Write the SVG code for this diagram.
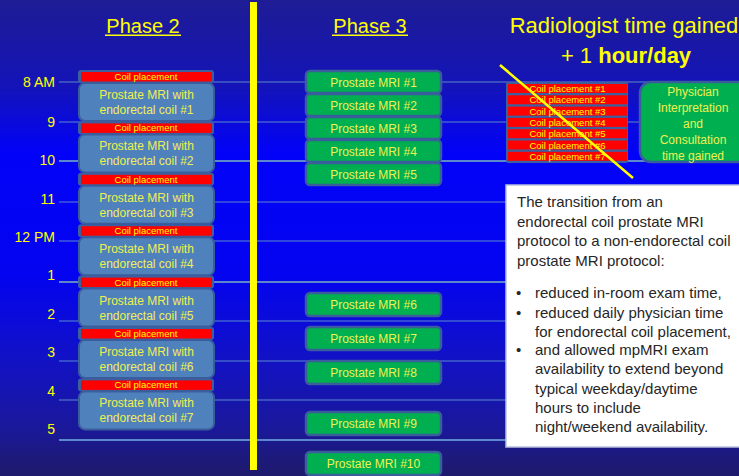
<svg xmlns="http://www.w3.org/2000/svg" width="739" height="476" viewBox="0 0 739 476">
<defs>
<linearGradient id="bg" x1="0" y1="0" x2="0" y2="1">
<stop offset="0" stop-color="#1e1c94"/>
<stop offset="0.18" stop-color="#1414b8"/>
<stop offset="0.32" stop-color="#0202f8"/>
<stop offset="0.58" stop-color="#0404f0"/>
<stop offset="0.76" stop-color="#1212c4"/>
<stop offset="0.9" stop-color="#1a189a"/>
<stop offset="1" stop-color="#1e1a6a"/>
</linearGradient>
<style>
text{font-family:"Liberation Sans",Arial,sans-serif}
.y{fill:#ffff00}
.bt{fill:#f0f050;font-size:12px;text-anchor:middle}
.ct{fill:#ffff00;font-size:9.5px;text-anchor:middle}
.tl{fill:#ffff00;font-size:14px;text-anchor:end}
.hl{stroke:#5b88cc;stroke-width:1}
.hk{stroke:#5b88cc;stroke-width:2}
.mri{fill:#4f81bd;stroke:#3a5d9c;stroke-width:2}
.frame{fill:#3d5f9e}
.red{fill:#ff0000}
.grn{fill:#00b050;stroke:#3a5d9c;stroke-width:2.5}
.bx{fill:#262626;font-size:15px}
</style>
</defs>
<rect width="739" height="476" fill="url(#bg)"/>

<g id="connectors">
<line class="hl" x1="59" y1="82" x2="739" y2="82"/>
<line class="hl" x1="59" y1="122" x2="739" y2="122"/>
<line class="hk" x1="59" y1="161" x2="739" y2="161"/>
<line class="hl" x1="59" y1="202" x2="739" y2="202"/>
<line class="hl" x1="59" y1="241" x2="739" y2="241"/>
<line class="hk" x1="59" y1="282" x2="739" y2="282"/>
<line class="hl" x1="59" y1="321" x2="739" y2="321"/>
<line class="hl" x1="59" y1="361" x2="739" y2="361"/>
<line class="hl" x1="59" y1="400" x2="739" y2="400"/>
<line class="hk" x1="59" y1="440" x2="739" y2="440"/>
</g>

<g id="time-labels">
<text class="tl" x="55" y="87">8 AM</text>
<text class="tl" x="55" y="127">9</text>
<text class="tl" x="55" y="165">10</text>
<text class="tl" x="55" y="204">11</text>
<text class="tl" x="55" y="242">12 PM</text>
<text class="tl" x="55" y="280">1</text>
<text class="tl" x="55" y="319">2</text>
<text class="tl" x="55" y="357">3</text>
<text class="tl" x="55" y="396">4</text>
<text class="tl" x="55" y="434">5</text>
</g>

<g id="titles">
<text class="y" x="143" y="33" font-size="20" text-anchor="middle">Phase 2</text>
<rect class="y" x="105" y="34.5" width="76" height="1.5"/>
<text class="y" x="370" y="33" font-size="20" text-anchor="middle">Phase 3</text>
<rect class="y" x="332" y="34.5" width="76" height="1.5"/>
<text class="y" x="624" y="33" font-size="22" text-anchor="middle">Radiologist time gained</text>
<text class="y" x="626" y="63" font-size="22" text-anchor="middle">+ 1 <tspan font-weight="bold">hour/day</tspan></text>
</g>

<rect id="divider" x="250" y="2" width="7" height="468" fill="#ffff00"/>

<g id="phase2">
<g id="p2-coil1"><rect class="frame" x="78" y="70" width="136" height="13" rx="3"/><rect class="red" x="81" y="72" width="131" height="9.5"/><text class="ct" x="146" y="80">Coil placement</text></g>
<g id="p2-mri1"><rect class="mri" x="79" y="83" width="135" height="38" rx="6"/><text class="bt" x="146.5" y="99">Prostate MRI with</text><text class="bt" x="146.5" y="114">endorectal coil #1</text></g>
<g id="p2-coil2"><rect class="frame" x="78" y="121.4" width="136" height="13" rx="3"/><rect class="red" x="81" y="123.4" width="131" height="9.5"/><text class="ct" x="146" y="131.4">Coil placement</text></g>
<g id="p2-mri2"><rect class="mri" x="79" y="134.4" width="135" height="38" rx="6"/><text class="bt" x="146.5" y="150.4">Prostate MRI with</text><text class="bt" x="146.5" y="165.4">endorectal coil #2</text></g>
<g id="p2-coil3"><rect class="frame" x="78" y="172.8" width="136" height="13" rx="3"/><rect class="red" x="81" y="174.8" width="131" height="9.5"/><text class="ct" x="146" y="182.8">Coil placement</text></g>
<g id="p2-mri3"><rect class="mri" x="79" y="185.8" width="135" height="38" rx="6"/><text class="bt" x="146.5" y="201.8">Prostate MRI with</text><text class="bt" x="146.5" y="216.8">endorectal coil #3</text></g>
<g id="p2-coil4"><rect class="frame" x="78" y="224.2" width="136" height="13" rx="3"/><rect class="red" x="81" y="226.2" width="131" height="9.5"/><text class="ct" x="146" y="234.2">Coil placement</text></g>
<g id="p2-mri4"><rect class="mri" x="79" y="237.2" width="135" height="38" rx="6"/><text class="bt" x="146.5" y="253.2">Prostate MRI with</text><text class="bt" x="146.5" y="268.2">endorectal coil #4</text></g>
<g id="p2-coil5"><rect class="frame" x="78" y="275.6" width="136" height="13" rx="3"/><rect class="red" x="81" y="277.6" width="131" height="9.5"/><text class="ct" x="146" y="285.6">Coil placement</text></g>
<g id="p2-mri5"><rect class="mri" x="79" y="288.6" width="135" height="38" rx="6"/><text class="bt" x="146.5" y="304.6">Prostate MRI with</text><text class="bt" x="146.5" y="319.6">endorectal coil #5</text></g>
<g id="p2-coil6"><rect class="frame" x="78" y="327" width="136" height="13" rx="3"/><rect class="red" x="81" y="329" width="131" height="9.5"/><text class="ct" x="146" y="337">Coil placement</text></g>
<g id="p2-mri6"><rect class="mri" x="79" y="340" width="135" height="38" rx="6"/><text class="bt" x="146.5" y="356">Prostate MRI with</text><text class="bt" x="146.5" y="371">endorectal coil #6</text></g>
<g id="p2-coil7"><rect class="frame" x="78" y="378.4" width="136" height="13" rx="3"/><rect class="red" x="81" y="380.4" width="131" height="9.5"/><text class="ct" x="146" y="388.4">Coil placement</text></g>
<g id="p2-mri7"><rect class="mri" x="79" y="391.4" width="135" height="38" rx="6"/><text class="bt" x="146.5" y="407.4">Prostate MRI with</text><text class="bt" x="146.5" y="422.4">endorectal coil #7</text></g>
</g>

<g id="phase3">
<g id="p3-mri1"><rect class="grn" x="306" y="71" width="135" height="22" rx="4"/><text class="bt" x="373.5" y="86.5">Prostate MRI #1</text></g>
<g id="p3-mri2"><rect class="grn" x="306" y="94" width="135" height="22" rx="4"/><text class="bt" x="373.5" y="109.5">Prostate MRI #2</text></g>
<g id="p3-mri3"><rect class="grn" x="306" y="117" width="135" height="22" rx="4"/><text class="bt" x="373.5" y="132.5">Prostate MRI #3</text></g>
<g id="p3-mri4"><rect class="grn" x="306" y="140" width="135" height="22" rx="4"/><text class="bt" x="373.5" y="155.5">Prostate MRI #4</text></g>
<g id="p3-mri5"><rect class="grn" x="306" y="163" width="135" height="22" rx="4"/><text class="bt" x="373.5" y="178.5">Prostate MRI #5</text></g>
<g id="p3-mri6"><rect class="grn" x="306" y="293" width="135" height="23" rx="4"/><text class="bt" x="373.5" y="309">Prostate MRI #6</text></g>
<g id="p3-mri7"><rect class="grn" x="306" y="327" width="135" height="23" rx="4"/><text class="bt" x="373.5" y="343">Prostate MRI #7</text></g>
<g id="p3-mri8"><rect class="grn" x="306" y="361" width="135" height="23" rx="4"/><text class="bt" x="373.5" y="377">Prostate MRI #8</text></g>
<g id="p3-mri9"><rect class="grn" x="306" y="412" width="135" height="23" rx="4"/><text class="bt" x="373.5" y="428">Prostate MRI #9</text></g>
<g id="p3-mri10"><rect class="grn" x="306" y="452" width="135" height="23" rx="4"/><text class="bt" x="373.5" y="468">Prostate MRI #10</text></g>
</g>

<g id="coil-stack">
<rect class="frame" x="506" y="82" width="122" height="81" rx="2"/>
<rect class="red" x="508" y="84" width="119" height="9"/>
<rect class="red" x="508" y="95.3" width="119" height="9"/>
<rect class="red" x="508" y="106.6" width="119" height="9"/>
<rect class="red" x="508" y="117.9" width="119" height="9"/>
<rect class="red" x="508" y="129.2" width="119" height="9"/>
<rect class="red" x="508" y="140.5" width="119" height="9"/>
<rect class="red" x="508" y="151.8" width="119" height="9"/>
<text class="ct" x="567.5" y="92">Coil placement #1</text>
<text class="ct" x="567.5" y="103.3">Coil placement #2</text>
<text class="ct" x="567.5" y="114.6">Coil placement #3</text>
<text class="ct" x="567.5" y="125.9">Coil placement #4</text>
<text class="ct" x="567.5" y="137.2">Coil placement #5</text>
<text class="ct" x="567.5" y="148.5">Coil placement #6</text>
<text class="ct" x="567.5" y="159.8">Coil placement #7</text>
</g>
<line id="strike" x1="500" y1="65" x2="633" y2="178" stroke="#ffff00" stroke-width="2.5"/>

<g id="physician">
<rect class="grn" x="640" y="82" width="112" height="80" rx="11"/>
<text class="bt" x="693" y="95.5">Physician</text>
<text class="bt" x="693" y="111.5">Interpretation</text>
<text class="bt" x="693" y="127.5">and</text>
<text class="bt" x="693" y="143.5">Consultation</text>
<text class="bt" x="693" y="159.5">time gained</text>
</g>

<g id="note">
<rect x="506" y="185" width="240" height="262" fill="#ffffff" stroke="#b8c0dc" stroke-width="1.5"/>
<text class="bx" x="517" y="207">The transition from an</text>
<text class="bx" x="517" y="227">endorectal coil prostate MRI</text>
<text class="bx" x="517" y="246">protocol to a non-endorectal coil</text>
<text class="bx" x="517" y="266">prostate MRI protocol:</text>
<text class="bx" x="516" y="298">•</text>
<text class="bx" x="535" y="298">reduced in-room exam time,</text>
<text class="bx" x="516" y="318">•</text>
<text class="bx" x="535" y="318">reduced daily physician time</text>
<text class="bx" x="535" y="337">for endorectal coil placement,</text>
<text class="bx" x="516" y="355">•</text>
<text class="bx" x="535" y="355">and allowed mpMRI exam</text>
<text class="bx" x="535" y="374">availability to extend beyond</text>
<text class="bx" x="535" y="394">typical weekday/daytime</text>
<text class="bx" x="535" y="413">hours to include</text>
<text class="bx" x="535" y="432">night/weekend availability.</text>
</g>
</svg>
